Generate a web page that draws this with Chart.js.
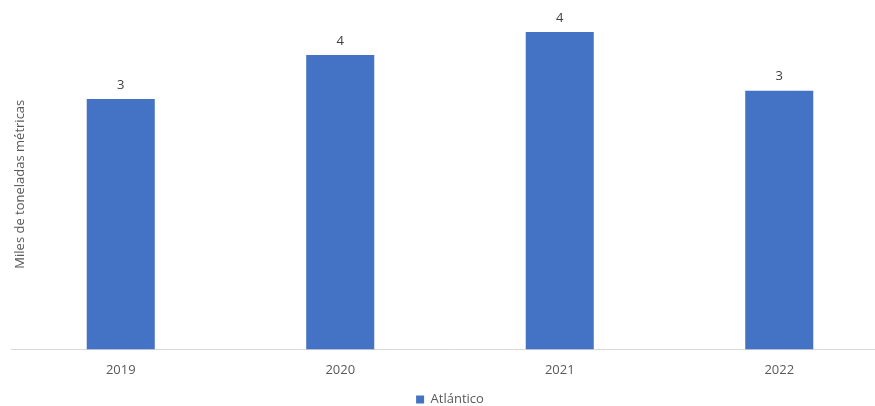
<!DOCTYPE html>
<html>
<head>
<meta charset="utf-8">
<script src="https://cdn.jsdelivr.net/npm/chart.js@4.4.0/dist/chart.umd.min.js"></script>
<style>
  html, body { margin: 0; padding: 0; background: #fff; overflow: hidden; }
  #wrap { width: 890px; height: 406px; }
</style>
</head>
<body>
<div id="wrap"><canvas id="chart" width="890" height="406"></canvas></div>
<script>
const years = ["2019", "2020", "2021", "2022"];
const atlantico = [3.29, 3.87, 4.17, 3.4];
const seriesName = "Atlántico";
const yTitle = "Miles de toneladas métricas";

const FONT = "'Open Sans', 'Noto Sans', sans-serif";

// value labels above the bars (rounded like the original)
const valueLabels = {
  id: "valueLabels",
  afterDatasetsDraw(chart) {
    const ctx = chart.ctx;
    ctx.save();
    ctx.font = "13px " + FONT;
    ctx.fillStyle = "#404040";
    ctx.textAlign = "center";
    ctx.textBaseline = "middle";
    chart.getDatasetMeta(0).data.forEach((bar, i) => {
      ctx.fillText(Math.round(atlantico[i]).toString(), bar.x, bar.y - 14);
    });
    ctx.restore();
  },
};

// rotated y title, sits inside the plot area like in Excel
const yAxisTitle = {
  id: "yAxisTitle",
  afterDraw(chart) {
    const ctx = chart.ctx;
    const area = chart.chartArea;
    ctx.save();
    ctx.translate(20, (area.top + area.bottom) / 2 + 6);
    ctx.rotate(-Math.PI / 2);
    ctx.font = "13px " + FONT;
    ctx.fillStyle = "#595959";
    ctx.textAlign = "center";
    ctx.textBaseline = "middle";
    ctx.fillText(yTitle, 0, 0);
    ctx.restore();
  },
};

const ctx = document.getElementById("chart").getContext("2d");
new Chart(ctx, {
  type: "bar",
  data: {
    labels: years,
    datasets: [
      {
        label: seriesName,
        data: atlantico,
        backgroundColor: "#4472C4",
        borderWidth: 0,
        categoryPercentage: 1,
        barPercentage: 0.31,
      },
    ],
  },
  options: {
    responsive: false,
    animation: false,
    layout: { padding: { left: 11, right: 1, top: 7, bottom: -10 } },
    plugins: {
      legend: {
        position: "bottom",
        labels: {
          boxWidth: 8,
          boxHeight: 8,
          padding: 10,
          color: "#595959",
          font: { family: FONT, size: 13 },
        },
      },
      tooltip: { enabled: false },
    },
    scales: {
      x: {
        grid: { display: false },
        border: { color: "#d9d9d9", width: 1 },
        ticks: {
          color: "#595959",
          padding: 5,
          font: { family: FONT, size: 13 },
        },
      },
      y: {
        display: false,
        min: 0,
        max: 4.5,
      },
    },
  },
  plugins: [valueLabels, yAxisTitle],
});
</script>
</body>
</html>
